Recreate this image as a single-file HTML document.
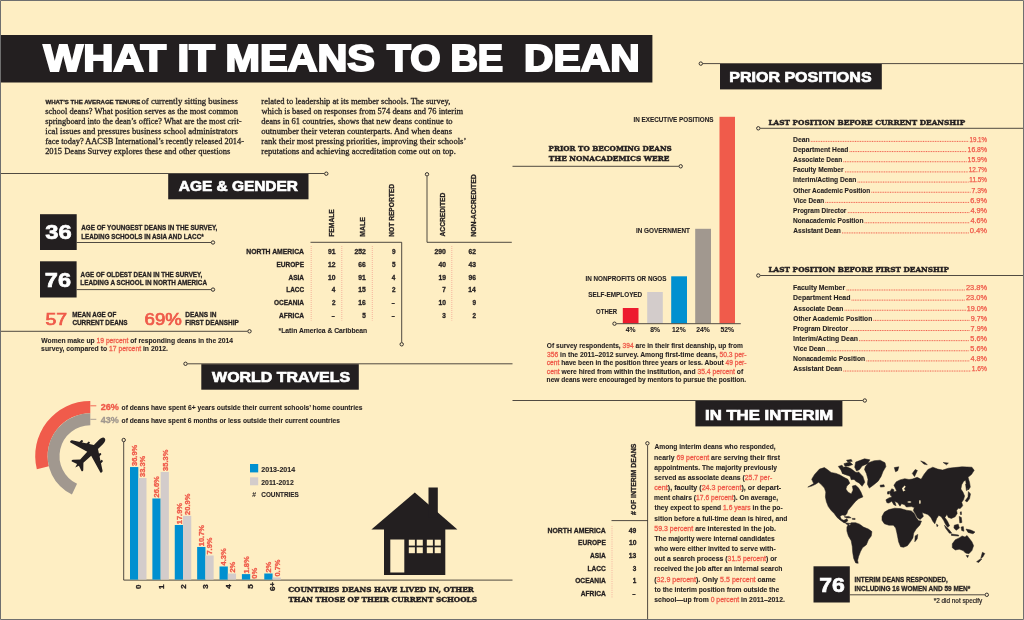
<!DOCTYPE html>
<html lang="en">
<head>
<meta charset="utf-8">
<title>What It Means To Be Dean</title>
<style>
html,body{margin:0;padding:0;background:#feeec3;}
body{width:1024px;height:620px;overflow:hidden;position:relative;}
svg{display:block;position:absolute;left:0;top:0;font-weight:bold;fill:#231f20;}
.s{font-family:'Liberation Sans', Arial, Helvetica, sans-serif;}
.r{font-family:'Liberation Serif', 'Times New Roman', serif;}
.b{font-family:'DejaVu Serif', 'Liberation Serif', serif;}
</style>
</head>
<body>
<svg width="1024" height="620" viewBox="0 0 1024 620">
<rect x="0" y="0" width="1024" height="620" fill="#feeec3"/>
<rect x="1" y="35" width="651.4" height="47.5" fill="#231f20"/>
<text class="s" x="43.6101" y="71.3" font-size="36.3" fill="#fff" textLength="122.579" lengthAdjust="spacingAndGlyphs" stroke="#fff" stroke-width="1.9" stroke-linejoin="miter">WHAT</text>
<text class="s" x="177.529" y="71.3" font-size="36.3" fill="#fff" textLength="37.4738" lengthAdjust="spacingAndGlyphs" stroke="#fff" stroke-width="1.9" stroke-linejoin="miter">IT</text>
<text class="s" x="225.583" y="71.3" font-size="36.3" fill="#fff" textLength="149.383" lengthAdjust="spacingAndGlyphs" stroke="#fff" stroke-width="1.9" stroke-linejoin="miter">MEANS</text>
<text class="s" x="387.118" y="71.3" font-size="36.3" fill="#fff" textLength="53.4485" lengthAdjust="spacingAndGlyphs" stroke="#fff" stroke-width="1.9" stroke-linejoin="miter">TO</text>
<text class="s" x="450.411" y="71.3" font-size="36.3" fill="#fff" textLength="52.7213" lengthAdjust="spacingAndGlyphs" stroke="#fff" stroke-width="1.9" stroke-linejoin="miter">BE</text>
<text class="s" x="524.124" y="71.3" font-size="36.3" fill="#fff" textLength="115.472" lengthAdjust="spacingAndGlyphs" stroke="#fff" stroke-width="1.9" stroke-linejoin="miter">DEAN</text>
<text class="s" x="45.4942" y="103.7" font-size="6" textLength="94.7396" lengthAdjust="spacingAndGlyphs" stroke="#231f20" stroke-width="0.3">WHAT’S THE AVERAGE TENURE</text>
<text class="r" x="141.469" y="103.7" font-size="8.9" font-weight="normal" textLength="96.3452" lengthAdjust="spacingAndGlyphs" stroke="#231f20" stroke-width="0.3">of currently sitting business</text>
<text class="r" x="45.1516" y="113.8" font-size="8.9" font-weight="normal" textLength="192.977" lengthAdjust="spacingAndGlyphs" stroke="#231f20" stroke-width="0.3">school deans? What position serves as the most common</text>
<text class="r" x="45.1559" y="123.9" font-size="8.9" font-weight="normal" textLength="196.397" lengthAdjust="spacingAndGlyphs" stroke="#231f20" stroke-width="0.3">springboard into the dean’s office? What are the most crit-</text>
<text class="r" x="45.3181" y="134" font-size="8.9" font-weight="normal" textLength="192.495" lengthAdjust="spacingAndGlyphs" stroke="#231f20" stroke-width="0.3">ical issues and pressures business school administrators</text>
<text class="r" x="45.2433" y="144.1" font-size="8.9" font-weight="normal" textLength="198.808" lengthAdjust="spacingAndGlyphs" stroke="#231f20" stroke-width="0.3">face today? AACSB International’s recently released 2014-</text>
<text class="r" x="45.1267" y="154.2" font-size="8.9" font-weight="normal" textLength="185.18" lengthAdjust="spacingAndGlyphs" stroke="#231f20" stroke-width="0.3">2015 Deans Survey explores these and other questions</text>
<text class="r" x="261.33" y="103.7" font-size="8.9" font-weight="normal" textLength="188.954" lengthAdjust="spacingAndGlyphs" stroke="#231f20" stroke-width="0.3">related to leadership at its member schools. The survey,</text>
<text class="r" x="261.492" y="113.8" font-size="8.9" font-weight="normal" textLength="201.64" lengthAdjust="spacingAndGlyphs" stroke="#231f20" stroke-width="0.3">which is based on responses from 574 deans and 76 interim</text>
<text class="r" x="261.191" y="123.9" font-size="8.9" font-weight="normal" textLength="191.385" lengthAdjust="spacingAndGlyphs" stroke="#231f20" stroke-width="0.3">deans in 61 countries, shows that new deans continue to</text>
<text class="r" x="261.169" y="134" font-size="8.9" font-weight="normal" textLength="190.895" lengthAdjust="spacingAndGlyphs" stroke="#231f20" stroke-width="0.3">outnumber their veteran counterparts. And when deans</text>
<text class="r" x="261.328" y="144.1" font-size="8.9" font-weight="normal" textLength="205" lengthAdjust="spacingAndGlyphs" stroke="#231f20" stroke-width="0.3">rank their most pressing priorities, improving their schools’</text>
<text class="r" x="261.328" y="154.2" font-size="8.9" font-weight="normal" textLength="194.488" lengthAdjust="spacingAndGlyphs" stroke="#231f20" stroke-width="0.3">reputations and achieving accreditation come out on top.</text>
<path d="M1 173.5L324.3 173.5" stroke="#231f20" stroke-width="0.8" fill="none" />
<circle cx="326.3" cy="173.7" r="1.7" fill="#feeec3" stroke="#231f20" stroke-width="0.9"/>
<rect x="168.2" y="174" width="140.3" height="25.3" fill="#231f20"/>
<text class="s" x="178.766" y="191.4" font-size="15" fill="#fff" textLength="119.201" lengthAdjust="spacingAndGlyphs" stroke="#fff" stroke-width="0.7">AGE &amp; GENDER</text>
<rect x="40" y="214.2" width="36.7" height="35.8" fill="#231f20"/>
<text class="s" x="45.3053" y="239.3" font-size="20.6" fill="#fff" textLength="26.4024" lengthAdjust="spacingAndGlyphs" stroke="#fff" stroke-width="0.7">36</text>
<rect x="40" y="261.3" width="36.6" height="36.2" fill="#231f20"/>
<text class="s" x="44.8394" y="287.1" font-size="20.6" fill="#fff" textLength="26.1604" lengthAdjust="spacingAndGlyphs" stroke="#fff" stroke-width="0.7">76</text>
<text class="s" x="81.3042" y="230.2" font-size="7.6" textLength="135.954" lengthAdjust="spacingAndGlyphs" stroke="#231f20" stroke-width="0.32">AGE OF YOUNGEST DEANS IN THE SURVEY,</text>
<text class="s" x="81.2413" y="238.7" font-size="7.6" textLength="122.405" lengthAdjust="spacingAndGlyphs" stroke="#231f20" stroke-width="0.32">LEADING SCHOOLS IN ASIA AND LACC*</text>
<path d="M76.7 242.5L211 242.5" stroke="#231f20" stroke-width="0.8" fill="none" />
<circle cx="213" cy="242.5" r="1.7" fill="#feeec3" stroke="#231f20" stroke-width="0.9"/>
<text class="s" x="80.6047" y="276.9" font-size="7.6" textLength="121.653" lengthAdjust="spacingAndGlyphs" stroke="#231f20" stroke-width="0.32">AGE OF OLDEST DEAN IN THE SURVEY,</text>
<text class="s" x="80.3387" y="285" font-size="7.6" textLength="126.667" lengthAdjust="spacingAndGlyphs" stroke="#231f20" stroke-width="0.32">LEADING A SCHOOL IN NORTH AMERICA</text>
<path d="M76.6 289.6L211 289.6" stroke="#231f20" stroke-width="0.8" fill="none" />
<circle cx="213" cy="289.6" r="1.7" fill="#feeec3" stroke="#231f20" stroke-width="0.9"/>
<text class="s" x="45.4164" y="324.6" font-size="15.6" font-weight="normal" fill="#ef5a4a" textLength="21.7678" lengthAdjust="spacingAndGlyphs" stroke="#ef5a4a" stroke-width="0.7">57</text>
<text class="s" x="72.2426" y="316.9" font-size="7.6" textLength="44.0259" lengthAdjust="spacingAndGlyphs" stroke="#231f20" stroke-width="0.32">MEAN AGE OF</text>
<text class="s" x="72.3988" y="325.1" font-size="7.6" textLength="55.1899" lengthAdjust="spacingAndGlyphs" stroke="#231f20" stroke-width="0.32">CURRENT DEANS</text>
<text class="s" x="144.553" y="324.6" font-size="15.6" font-weight="normal" fill="#ef5a4a" textLength="37.3111" lengthAdjust="spacingAndGlyphs" stroke="#ef5a4a" stroke-width="0.7">69%</text>
<text class="s" x="185.222" y="316.9" font-size="7.6" textLength="31.2584" lengthAdjust="spacingAndGlyphs" stroke="#231f20" stroke-width="0.32">DEANS IN</text>
<text class="s" x="185.23" y="325.1" font-size="7.6" textLength="53.5292" lengthAdjust="spacingAndGlyphs" stroke="#231f20" stroke-width="0.32">FIRST DEANSHIP</text>
<path d="M1 331.3L247.5 331.3" stroke="#231f20" stroke-width="0.8" fill="none" />
<circle cx="249.5" cy="331.3" r="1.7" fill="#feeec3" stroke="#231f20" stroke-width="0.9"/>
<text class="s" x="41.3435" y="343.1" font-size="7.4" textLength="191.642" lengthAdjust="spacingAndGlyphs" stroke="#231f20" stroke-width="0.1">Women make up <tspan fill="#ef5a4a" stroke="#ef5a4a" stroke-width="0.3" font-weight="normal">19 percent</tspan> of responding deans in the 2014</text>
<text class="s" x="41.1155" y="351.4" font-size="7.4" textLength="126.794" lengthAdjust="spacingAndGlyphs" stroke="#231f20" stroke-width="0.1">survey, compared to <tspan fill="#ef5a4a" stroke="#ef5a4a" stroke-width="0.3" font-weight="normal">17 percent</tspan> in 2012.</text>
<text class="s" x="246.205" y="254" font-size="7.6" textLength="57.8144" lengthAdjust="spacingAndGlyphs" stroke="#231f20" stroke-width="0.32">NORTH AMERICA</text>
<text class="s" x="276.523" y="266.8" font-size="7.6" textLength="27.5718" lengthAdjust="spacingAndGlyphs" stroke="#231f20" stroke-width="0.32">EUROPE</text>
<text class="s" x="288.498" y="279.6" font-size="7.6" textLength="15.5129" lengthAdjust="spacingAndGlyphs" stroke="#231f20" stroke-width="0.32">ASIA</text>
<text class="s" x="286.232" y="292.3" font-size="7.6" textLength="17.7834" lengthAdjust="spacingAndGlyphs" stroke="#231f20" stroke-width="0.32">LACC</text>
<text class="s" x="273.892" y="305.1" font-size="7.6" textLength="30.1201" lengthAdjust="spacingAndGlyphs" stroke="#231f20" stroke-width="0.32">OCEANIA</text>
<text class="s" x="278.995" y="317.8" font-size="7.6" textLength="25.0196" lengthAdjust="spacingAndGlyphs" stroke="#231f20" stroke-width="0.32">AFRICA</text>
<text class="s" x="328.006" y="254" font-size="7.6" textLength="7.52272" lengthAdjust="spacingAndGlyphs" stroke="#231f20" stroke-width="0.32">91</text>
<text class="s" x="328.101" y="266.8" font-size="7.6" textLength="7.5091" lengthAdjust="spacingAndGlyphs" stroke="#231f20" stroke-width="0.32">12</text>
<text class="s" x="328.108" y="279.6" font-size="7.6" textLength="7.50876" lengthAdjust="spacingAndGlyphs" stroke="#231f20" stroke-width="0.32">10</text>
<text class="s" x="331.776" y="292.3" font-size="7.6" textLength="3.59863" lengthAdjust="spacingAndGlyphs" stroke="#231f20" stroke-width="0.32">4</text>
<text class="s" x="332.035" y="305.1" font-size="7.6" textLength="3.56123" lengthAdjust="spacingAndGlyphs" stroke="#231f20" stroke-width="0.32">2</text>
<text class="s" x="331.617" y="317.8" font-size="7.6" textLength="3.3766" lengthAdjust="spacingAndGlyphs" stroke="#231f20" stroke-width="0.32">-</text>
<text class="s" x="354.457" y="254" font-size="7.6" textLength="11.4577" lengthAdjust="spacingAndGlyphs" stroke="#231f20" stroke-width="0.32">252</text>
<text class="s" x="358.365" y="266.8" font-size="7.6" textLength="7.51937" lengthAdjust="spacingAndGlyphs" stroke="#231f20" stroke-width="0.32">66</text>
<text class="s" x="358.306" y="279.6" font-size="7.6" textLength="7.52272" lengthAdjust="spacingAndGlyphs" stroke="#231f20" stroke-width="0.32">91</text>
<text class="s" x="358.315" y="292.3" font-size="7.6" textLength="7.51332" lengthAdjust="spacingAndGlyphs" stroke="#231f20" stroke-width="0.32">15</text>
<text class="s" x="358.374" y="305.1" font-size="7.6" textLength="7.51046" lengthAdjust="spacingAndGlyphs" stroke="#231f20" stroke-width="0.32">16</text>
<text class="s" x="362.246" y="317.8" font-size="7.6" textLength="3.5732" lengthAdjust="spacingAndGlyphs" stroke="#231f20" stroke-width="0.32">5</text>
<text class="s" x="392.014" y="254" font-size="7.6" textLength="3.56347" lengthAdjust="spacingAndGlyphs" stroke="#231f20" stroke-width="0.32">9</text>
<text class="s" x="391.946" y="266.8" font-size="7.6" textLength="3.5732" lengthAdjust="spacingAndGlyphs" stroke="#231f20" stroke-width="0.32">5</text>
<text class="s" x="391.776" y="279.6" font-size="7.6" textLength="3.59863" lengthAdjust="spacingAndGlyphs" stroke="#231f20" stroke-width="0.32">4</text>
<text class="s" x="392.035" y="292.3" font-size="7.6" textLength="3.56123" lengthAdjust="spacingAndGlyphs" stroke="#231f20" stroke-width="0.32">2</text>
<text class="s" x="391.617" y="305.1" font-size="7.6" textLength="3.3766" lengthAdjust="spacingAndGlyphs" stroke="#231f20" stroke-width="0.32">-</text>
<text class="s" x="391.617" y="317.8" font-size="7.6" textLength="3.3766" lengthAdjust="spacingAndGlyphs" stroke="#231f20" stroke-width="0.32">-</text>
<text class="s" x="434.464" y="254" font-size="7.6" textLength="11.4574" lengthAdjust="spacingAndGlyphs" stroke="#231f20" stroke-width="0.32">290</text>
<text class="s" x="438.393" y="266.8" font-size="7.6" textLength="7.52476" lengthAdjust="spacingAndGlyphs" stroke="#231f20" stroke-width="0.32">40</text>
<text class="s" x="438.38" y="279.6" font-size="7.6" textLength="7.51012" lengthAdjust="spacingAndGlyphs" stroke="#231f20" stroke-width="0.32">19</text>
<text class="s" x="442.369" y="292.3" font-size="7.6" textLength="3.55161" lengthAdjust="spacingAndGlyphs" stroke="#231f20" stroke-width="0.32">7</text>
<text class="s" x="438.408" y="305.1" font-size="7.6" textLength="7.50876" lengthAdjust="spacingAndGlyphs" stroke="#231f20" stroke-width="0.32">10</text>
<text class="s" x="442.299" y="317.8" font-size="7.6" textLength="3.57285" lengthAdjust="spacingAndGlyphs" stroke="#231f20" stroke-width="0.32">3</text>
<text class="s" x="468.593" y="254" font-size="7.6" textLength="7.51808" lengthAdjust="spacingAndGlyphs" stroke="#231f20" stroke-width="0.32">62</text>
<text class="s" x="468.558" y="266.8" font-size="7.6" textLength="7.52631" lengthAdjust="spacingAndGlyphs" stroke="#231f20" stroke-width="0.32">43</text>
<text class="s" x="468.564" y="279.6" font-size="7.6" textLength="7.52002" lengthAdjust="spacingAndGlyphs" stroke="#231f20" stroke-width="0.32">96</text>
<text class="s" x="468.356" y="292.3" font-size="7.6" textLength="7.52082" lengthAdjust="spacingAndGlyphs" stroke="#231f20" stroke-width="0.32">14</text>
<text class="s" x="472.514" y="305.1" font-size="7.6" textLength="3.56347" lengthAdjust="spacingAndGlyphs" stroke="#231f20" stroke-width="0.32">9</text>
<text class="s" x="472.535" y="317.8" font-size="7.6" textLength="3.56123" lengthAdjust="spacingAndGlyphs" stroke="#231f20" stroke-width="0.32">2</text>
<text transform="translate(334.2 236.3) rotate(-90)" class="s" x="-0.45" y="0" font-size="7.6" textLength="27.51" lengthAdjust="spacingAndGlyphs" stroke="#231f20" stroke-width="0.32">FEMALE</text>
<text transform="translate(365.2 236.3) rotate(-90)" class="s" x="-0.46" y="0" font-size="7.6" textLength="19.53" lengthAdjust="spacingAndGlyphs" stroke="#231f20" stroke-width="0.32">MALE</text>
<text transform="translate(393.8 236.3) rotate(-90)" class="s" x="-0.44" y="0" font-size="7.6" textLength="52.82" lengthAdjust="spacingAndGlyphs" stroke="#231f20" stroke-width="0.32">NOT REPORTED</text>
<text transform="translate(444.8 236.3) rotate(-90)" class="s" x="-0.17" y="0" font-size="7.6" textLength="43.75" lengthAdjust="spacingAndGlyphs" stroke="#231f20" stroke-width="0.32">ACCREDITED</text>
<text transform="translate(476.3 236.3) rotate(-90)" class="s" x="-0.46" y="0" font-size="7.6" textLength="62.55" lengthAdjust="spacingAndGlyphs" stroke="#231f20" stroke-width="0.32">NON-ACCREDITED</text>
<path d="M310.5 242.3L401.7 242.3L401.7 342.3" stroke="#231f20" stroke-width="0.8" fill="none"/>
<circle cx="401.7" cy="344.3" r="1.7" fill="#feeec3" stroke="#231f20" stroke-width="0.9"/>
<path d="M427 176.3L427 242.3L511.8 242.3" stroke="#231f20" stroke-width="0.8" fill="none"/>
<circle cx="427" cy="174.3" r="1.7" fill="#feeec3" stroke="#231f20" stroke-width="0.9"/>
<path d="M311.2 246L311.2 320.5" stroke="#f29a8d" stroke-width="0.8" fill="none" stroke-dasharray="0.9 1.1"/>
<path d="M341.8 246L341.8 320.5" stroke="#f29a8d" stroke-width="0.8" fill="none" stroke-dasharray="0.9 1.1"/>
<path d="M372.3 246L372.3 320.5" stroke="#f29a8d" stroke-width="0.8" fill="none" stroke-dasharray="0.9 1.1"/>
<path d="M451.8 246L451.8 320.5" stroke="#f29a8d" stroke-width="0.8" fill="none" stroke-dasharray="0.9 1.1"/>
<text class="s" x="278.53" y="332.6" font-size="7.2" textLength="88.6371" lengthAdjust="spacingAndGlyphs" stroke="#231f20" stroke-width="0.1">*Latin America &amp; Caribbean</text>
<path d="M187.5 363.8L512.5 363.8" stroke="#231f20" stroke-width="0.8" fill="none" />
<circle cx="185.5" cy="363.8" r="1.7" fill="#feeec3" stroke="#231f20" stroke-width="0.9"/>
<rect x="201.3" y="364.2" width="157.5" height="25.5" fill="#231f20"/>
<text class="s" x="212.135" y="382.1" font-size="15" fill="#fff" textLength="137.933" lengthAdjust="spacingAndGlyphs" stroke="#fff" stroke-width="0.7">WORLD TRAVELS</text>
<path d="M90.3 400.9A55.1 55.1 0 0 0 36.84 469.33L48.87 466.33A42.7 42.7 0 0 1 90.3 413.3Z" fill="#f05b4b"/>
<path d="M90.3 413.3A42.7 42.7 0 0 0 71.92 494.54L77.04 483.80A30.8 30.8 0 0 1 90.3 425.2Z" fill="#a1988f"/>
<path d="M90.3 405.8L96.3 405.8" stroke="#f05b4b" stroke-width="0.9" fill="none" />
<path d="M90.3 419.3L96.3 419.3" stroke="#a1988f" stroke-width="0.9" fill="none" />
<text class="s" x="100.644" y="410.1" font-size="8.6" fill="#ef5a4a" textLength="18.2361" lengthAdjust="spacingAndGlyphs" stroke="#ef5a4a" stroke-width="0.32">26%</text>
<text class="s" x="121.588" y="410" font-size="7.4" textLength="240.936" lengthAdjust="spacingAndGlyphs" stroke="#231f20" stroke-width="0.1">of deans have spent 6+ years outside their current schools’ home countries</text>
<text class="s" x="100.823" y="423.1" font-size="8.6" fill="#a1988f" textLength="18.0544" lengthAdjust="spacingAndGlyphs" stroke="#a1988f" stroke-width="0.32">43%</text>
<text class="s" x="121.588" y="423" font-size="7.4" textLength="218.436" lengthAdjust="spacingAndGlyphs" stroke="#231f20" stroke-width="0.1">of deans have spent 6 months or less outside their current countries</text>
<path d="M123.7 442L123.7 580.1L512.5 580.1" stroke="#231f20" stroke-width="0.8" fill="none"/>
<circle cx="123.7" cy="440" r="1.7" fill="#feeec3" stroke="#231f20" stroke-width="0.9"/>
<rect x="130" y="467.055" width="8.3" height="112.545" fill="#0090d0"/>
<rect x="138.3" y="478.035" width="8.2" height="101.565" fill="#d3cccb"/>
<text transform="translate(136.9 465.855) rotate(-90)" class="s" x="-0.17" y="0" font-size="7.5" textLength="21.27" lengthAdjust="spacingAndGlyphs" fill="#ef5a4a" stroke="#ef5a4a" stroke-width="0.32">36.9%</text>
<text transform="translate(145.3 476.835) rotate(-90)" class="s" x="-0.17" y="0" font-size="7.5" textLength="21.27" lengthAdjust="spacingAndGlyphs" fill="#ef5a4a" stroke="#ef5a4a" stroke-width="0.32">33.3%</text>
<text transform="translate(141.2 588.6) rotate(-90)" class="s" x="-0.32" y="0" font-size="7.6" textLength="4.44" lengthAdjust="spacingAndGlyphs" stroke="#231f20" stroke-width="0.32">0</text>
<rect x="152.38" y="498.47" width="8.3" height="81.13" fill="#0090d0"/>
<rect x="160.68" y="471.935" width="8.2" height="107.665" fill="#d3cccb"/>
<text transform="translate(159.28 497.27) rotate(-90)" class="s" x="-0.26" y="0" font-size="7.5" textLength="21.27" lengthAdjust="spacingAndGlyphs" fill="#ef5a4a" stroke="#ef5a4a" stroke-width="0.32">26.6%</text>
<text transform="translate(167.68 470.735) rotate(-90)" class="s" x="-0.17" y="0" font-size="7.5" textLength="21.27" lengthAdjust="spacingAndGlyphs" fill="#ef5a4a" stroke="#ef5a4a" stroke-width="0.32">35.3%</text>
<text transform="translate(163.58 588.6) rotate(-90)" class="s" x="-0.50" y="0" font-size="7.6" textLength="4.44" lengthAdjust="spacingAndGlyphs" stroke="#231f20" stroke-width="0.32">1</text>
<rect x="174.76" y="525.005" width="8.3" height="54.595" fill="#0090d0"/>
<rect x="183.06" y="515.855" width="8.2" height="63.745" fill="#d3cccb"/>
<text transform="translate(181.66 523.805) rotate(-90)" class="s" x="-0.47" y="0" font-size="7.5" textLength="21.27" lengthAdjust="spacingAndGlyphs" fill="#ef5a4a" stroke="#ef5a4a" stroke-width="0.32">17.9%</text>
<text transform="translate(190.06 514.655) rotate(-90)" class="s" x="-0.26" y="0" font-size="7.5" textLength="21.27" lengthAdjust="spacingAndGlyphs" fill="#ef5a4a" stroke="#ef5a4a" stroke-width="0.32">20.9%</text>
<text transform="translate(185.96 588.6) rotate(-90)" class="s" x="-0.28" y="0" font-size="7.6" textLength="4.44" lengthAdjust="spacingAndGlyphs" stroke="#231f20" stroke-width="0.32">2</text>
<rect x="197.14" y="546.965" width="8.3" height="32.635" fill="#0090d0"/>
<rect x="205.44" y="555.505" width="8.2" height="24.095" fill="#d3cccb"/>
<text transform="translate(204.04 545.765) rotate(-90)" class="s" x="-0.47" y="0" font-size="7.5" textLength="21.27" lengthAdjust="spacingAndGlyphs" fill="#ef5a4a" stroke="#ef5a4a" stroke-width="0.32">10.7%</text>
<text transform="translate(212.44 554.305) rotate(-90)" class="s" x="-0.32" y="0" font-size="7.5" textLength="17.09" lengthAdjust="spacingAndGlyphs" fill="#ef5a4a" stroke="#ef5a4a" stroke-width="0.32">7.9%</text>
<text transform="translate(208.34 588.6) rotate(-90)" class="s" x="-0.18" y="0" font-size="7.6" textLength="4.44" lengthAdjust="spacingAndGlyphs" stroke="#231f20" stroke-width="0.32">3</text>
<rect x="219.52" y="566.485" width="8.3" height="13.115" fill="#0090d0"/>
<rect x="227.82" y="573.5" width="8.2" height="6.1" fill="#d3cccb"/>
<text transform="translate(226.42 565.285) rotate(-90)" class="s" x="-0.11" y="0" font-size="7.5" textLength="17.09" lengthAdjust="spacingAndGlyphs" fill="#ef5a4a" stroke="#ef5a4a" stroke-width="0.32">4.3%</text>
<text transform="translate(234.82 572.3) rotate(-90)" class="s" x="-0.26" y="0" font-size="7.5" textLength="10.84" lengthAdjust="spacingAndGlyphs" fill="#ef5a4a" stroke="#ef5a4a" stroke-width="0.32">2%</text>
<text transform="translate(230.72 588.6) rotate(-90)" class="s" x="-0.12" y="0" font-size="7.6" textLength="4.44" lengthAdjust="spacingAndGlyphs" stroke="#231f20" stroke-width="0.32">4</text>
<rect x="241.9" y="574.11" width="8.3" height="5.49" fill="#0090d0"/>
<text transform="translate(248.8 572.91) rotate(-90)" class="s" x="-0.47" y="0" font-size="7.5" textLength="17.09" lengthAdjust="spacingAndGlyphs" fill="#ef5a4a" stroke="#ef5a4a" stroke-width="0.32">1.8%</text>
<text transform="translate(257.2 578.4) rotate(-90)" class="s" x="-0.30" y="0" font-size="7.5" textLength="10.84" lengthAdjust="spacingAndGlyphs" fill="#ef5a4a" stroke="#ef5a4a" stroke-width="0.32">0%</text>
<text transform="translate(253.1 588.6) rotate(-90)" class="s" x="-0.25" y="0" font-size="7.6" textLength="4.44" lengthAdjust="spacingAndGlyphs" stroke="#231f20" stroke-width="0.32">5</text>
<rect x="264.28" y="573.5" width="8.3" height="6.1" fill="#0090d0"/>
<rect x="272.58" y="577.465" width="8.2" height="2.135" fill="#d3cccb"/>
<text transform="translate(271.18 572.3) rotate(-90)" class="s" x="-0.26" y="0" font-size="7.5" textLength="10.84" lengthAdjust="spacingAndGlyphs" fill="#ef5a4a" stroke="#ef5a4a" stroke-width="0.32">2%</text>
<text transform="translate(279.58 576.265) rotate(-90)" class="s" x="-0.30" y="0" font-size="7.5" textLength="17.09" lengthAdjust="spacingAndGlyphs" fill="#ef5a4a" stroke="#ef5a4a" stroke-width="0.32">0.7%</text>
<text transform="translate(275.48 590.8) rotate(-90)" class="s" x="-0.29" y="0" font-size="7.6" textLength="9.10" lengthAdjust="spacingAndGlyphs" stroke="#231f20" stroke-width="0.32">6+</text>
<rect x="250" y="464" width="8.2" height="8.4" fill="#0090d0"/>
<rect x="250" y="477.3" width="8.2" height="8" fill="#d3cccb"/>
<text class="s" x="261.304" y="472.2" font-size="7.2" textLength="33.8837" lengthAdjust="spacingAndGlyphs" stroke="#231f20" stroke-width="0.1">2013-2014</text>
<text class="s" x="261.315" y="484.9" font-size="7.2" textLength="32.4062" lengthAdjust="spacingAndGlyphs" stroke="#231f20" stroke-width="0.1">2011-2012</text>
<text class="s" x="252" y="496.9" font-size="7.2" font-style="italic">#</text>
<text class="s" x="261.288" y="496.9" font-size="7.2" textLength="37.6114" lengthAdjust="spacingAndGlyphs" stroke="#231f20" stroke-width="0.1">COUNTRIES</text>
<text class="b" x="288.194" y="591.7" font-size="8" textLength="185.763" lengthAdjust="spacingAndGlyphs" stroke="#231f20" stroke-width="0.45">COUNTRIES DEANS HAVE LIVED IN, OTHER</text>
<text class="b" x="288.418" y="601.7" font-size="8" textLength="188.519" lengthAdjust="spacingAndGlyphs" stroke="#231f20" stroke-width="0.45">THAN THOSE OF THEIR CURRENT SCHOOLS</text>
<path d="M702.8 63.6L1023 63.6" stroke="#231f20" stroke-width="0.8" fill="none" />
<circle cx="700.8" cy="63.6" r="1.7" fill="#feeec3" stroke="#231f20" stroke-width="0.9"/>
<rect x="720" y="64" width="161.8" height="25.4" fill="#231f20"/>
<text class="s" x="729.279" y="82" font-size="15" fill="#fff" textLength="142.296" lengthAdjust="spacingAndGlyphs" stroke="#fff" stroke-width="0.7">PRIOR POSITIONS</text>
<rect x="622.8" y="308" width="15.7" height="15.3" fill="#ed1b2e"/>
<rect x="647.2" y="292" width="15.6" height="31.3" fill="#d3cccb"/>
<rect x="671.2" y="276.3" width="15.8" height="47" fill="#0090d0"/>
<rect x="695.2" y="228.8" width="15.8" height="94.5" fill="#a1988f"/>
<rect x="719.5" y="116.8" width="15.5" height="206.5" fill="#f05b4b"/>
<path d="M616.5 323.7L740.8 323.7" stroke="#231f20" stroke-width="0.8" fill="none" />
<circle cx="614.5" cy="323.7" r="1.7" fill="#feeec3" stroke="#231f20" stroke-width="0.9"/>
<text class="s" x="625.847" y="332.3" font-size="7.2" textLength="9.78298" lengthAdjust="spacingAndGlyphs" stroke="#231f20" stroke-width="0.1">4%</text>
<text class="s" x="650.191" y="332.3" font-size="7.2" textLength="9.78175" lengthAdjust="spacingAndGlyphs" stroke="#231f20" stroke-width="0.1">8%</text>
<text class="s" x="672.083" y="332.3" font-size="7.2" textLength="13.5853" lengthAdjust="spacingAndGlyphs" stroke="#231f20" stroke-width="0.1">12%</text>
<text class="s" x="696.178" y="332.3" font-size="7.2" textLength="13.5869" lengthAdjust="spacingAndGlyphs" stroke="#231f20" stroke-width="0.1">24%</text>
<text class="s" x="720.492" y="332.3" font-size="7.2" textLength="13.5871" lengthAdjust="spacingAndGlyphs" stroke="#231f20" stroke-width="0.1">52%</text>
<text class="s" x="633.427" y="122.2" font-size="7" textLength="80.0697" lengthAdjust="spacingAndGlyphs" stroke="#231f20" stroke-width="0.1">IN EXECUTIVE POSITIONS</text>
<text class="s" x="635.921" y="233.4" font-size="7" textLength="54.0973" lengthAdjust="spacingAndGlyphs" stroke="#231f20" stroke-width="0.1">IN GOVERNMENT</text>
<text class="s" x="585.427" y="281.4" font-size="7" textLength="81.0693" lengthAdjust="spacingAndGlyphs" stroke="#231f20" stroke-width="0.1">IN NONPROFITS OR NGOS</text>
<text class="s" x="588.167" y="297.1" font-size="7" textLength="54.0502" lengthAdjust="spacingAndGlyphs" stroke="#231f20" stroke-width="0.1">SELF-EMPLOYED</text>
<text class="s" x="596.104" y="313.6" font-size="7" textLength="20.9686" lengthAdjust="spacingAndGlyphs" stroke="#231f20" stroke-width="0.1">OTHER</text>
<text class="b" x="548.462" y="150.9" font-size="8" textLength="123.272" lengthAdjust="spacingAndGlyphs" stroke="#231f20" stroke-width="0.45">PRIOR TO BECOMING DEANS</text>
<text class="b" x="548.717" y="161.2" font-size="8" textLength="120.66" lengthAdjust="spacingAndGlyphs" stroke="#231f20" stroke-width="0.45">THE NONACADEMICS WERE</text>
<path d="M512.5 166.3L678.7 166.3" stroke="#231f20" stroke-width="0.8" fill="none" />
<circle cx="680.7" cy="166.3" r="1.7" fill="#feeec3" stroke="#231f20" stroke-width="0.9"/>
<text class="s" x="546.778" y="348.2" font-size="7.4" textLength="196.082" lengthAdjust="spacingAndGlyphs" stroke="#231f20" stroke-width="0.1">Of survey respondents, <tspan fill="#ef5a4a" stroke="#ef5a4a" stroke-width="0.3" font-weight="normal">394</tspan> are in their first deanship, up from</text>
<text class="s" x="546.896" y="356.7" font-size="7.4" textLength="199.622" lengthAdjust="spacingAndGlyphs" stroke="#231f20" stroke-width="0.1"><tspan fill="#ef5a4a" stroke="#ef5a4a" stroke-width="0.3" font-weight="normal">356</tspan> in the 2011–2012 survey. Among first-time deans, <tspan fill="#ef5a4a" stroke="#ef5a4a" stroke-width="0.3" font-weight="normal">50.3 per-</tspan></text>
<text class="s" x="546.794" y="365.2" font-size="7.4" textLength="199.719" lengthAdjust="spacingAndGlyphs" stroke="#231f20" stroke-width="0.1"><tspan fill="#ef5a4a" stroke="#ef5a4a" stroke-width="0.3" font-weight="normal">cent</tspan> have been in the position three years or less. About <tspan fill="#ef5a4a" stroke="#ef5a4a" stroke-width="0.3" font-weight="normal">49 per-</tspan></text>
<text class="s" x="546.79" y="373.7" font-size="7.4" textLength="196.447" lengthAdjust="spacingAndGlyphs" stroke="#231f20" stroke-width="0.1"><tspan fill="#ef5a4a" stroke="#ef5a4a" stroke-width="0.3" font-weight="normal">cent</tspan> were hired from within the institution, and <tspan fill="#ef5a4a" stroke="#ef5a4a" stroke-width="0.3" font-weight="normal">35.4 percent</tspan> of</text>
<text class="s" x="546.616" y="382.2" font-size="7.4" textLength="199.587" lengthAdjust="spacingAndGlyphs" stroke="#231f20" stroke-width="0.1">new deans were encouraged by mentors to pursue the position.</text>
<text class="b" x="768.457" y="125" font-size="8" textLength="196.725" lengthAdjust="spacingAndGlyphs" stroke="#231f20" stroke-width="0.45">LAST POSITION BEFORE CURRENT DEANSHIP</text>
<path d="M760.3 128.3L1023 128.3" stroke="#231f20" stroke-width="0.8" fill="none" />
<circle cx="758.3" cy="128.3" r="1.7" fill="#feeec3" stroke="#231f20" stroke-width="0.9"/>
<text class="s" x="793.044" y="141.7" font-size="6.9" textLength="16.6793" lengthAdjust="spacingAndGlyphs" stroke="#231f20" stroke-width="0.12">Dean</text>
<text class="s" x="969.53" y="141.7" font-size="6.9" font-weight="normal" fill="#ef5a4a" textLength="17.4897" lengthAdjust="spacingAndGlyphs" stroke="#ef5a4a" stroke-width="0.25">19.1%</text>
<path d="M810.8 141.4L968.8 141.4" stroke="#f0604f" stroke-width="1" fill="none" stroke-dasharray="1 0.7"/>
<text class="s" x="793.053" y="151.87" font-size="6.9" textLength="55.3885" lengthAdjust="spacingAndGlyphs" stroke="#231f20" stroke-width="0.12">Department Head</text>
<text class="s" x="967.577" y="151.87" font-size="6.9" font-weight="normal" fill="#ef5a4a" textLength="19.4677" lengthAdjust="spacingAndGlyphs" stroke="#ef5a4a" stroke-width="0.25">16.8%</text>
<path d="M849.5 151.57L966.9 151.57" stroke="#f0604f" stroke-width="1" fill="none" stroke-dasharray="1 0.7"/>
<text class="s" x="793.337" y="162.04" font-size="6.9" textLength="48.8703" lengthAdjust="spacingAndGlyphs" stroke="#231f20" stroke-width="0.12">Associate Dean</text>
<text class="s" x="967.577" y="162.04" font-size="6.9" font-weight="normal" fill="#ef5a4a" textLength="19.4677" lengthAdjust="spacingAndGlyphs" stroke="#ef5a4a" stroke-width="0.25">15.9%</text>
<path d="M843.3 161.74L966.9 161.74" stroke="#f0604f" stroke-width="1" fill="none" stroke-dasharray="1 0.7"/>
<text class="s" x="793.056" y="172.21" font-size="6.9" textLength="50.5446" lengthAdjust="spacingAndGlyphs" stroke="#231f20" stroke-width="0.12">Faculty Member</text>
<text class="s" x="968.811" y="172.21" font-size="6.9" font-weight="normal" fill="#ef5a4a" textLength="18.2184" lengthAdjust="spacingAndGlyphs" stroke="#ef5a4a" stroke-width="0.25">12.7%</text>
<path d="M845 171.91L968.1 171.91" stroke="#f0604f" stroke-width="1" fill="none" stroke-dasharray="1 0.7"/>
<text class="s" x="793.051" y="182.38" font-size="6.9" textLength="63.3647" lengthAdjust="spacingAndGlyphs" stroke="#231f20" stroke-width="0.12">Interim/Acting Dean</text>
<text class="s" x="969.325" y="182.38" font-size="6.9" font-weight="normal" fill="#ef5a4a" textLength="17.6979" lengthAdjust="spacingAndGlyphs" stroke="#ef5a4a" stroke-width="0.25">11.5%</text>
<path d="M857.5 182.08L968.6 182.08" stroke="#f0604f" stroke-width="1" fill="none" stroke-dasharray="1 0.7"/>
<text class="s" x="793.235" y="192.55" font-size="6.9" textLength="76.9668" lengthAdjust="spacingAndGlyphs" stroke="#231f20" stroke-width="0.12">Other Academic Position</text>
<text class="s" x="971.449" y="192.55" font-size="6.9" font-weight="normal" fill="#ef5a4a" textLength="15.5947" lengthAdjust="spacingAndGlyphs" stroke="#ef5a4a" stroke-width="0.25">7.3%</text>
<path d="M871.3 192.25L970.6 192.25" stroke="#f0604f" stroke-width="1" fill="none" stroke-dasharray="1 0.7"/>
<text class="s" x="793.456" y="202.72" font-size="6.9" textLength="30.7428" lengthAdjust="spacingAndGlyphs" stroke="#231f20" stroke-width="0.12">Vice Dean</text>
<text class="s" x="970.225" y="202.72" font-size="6.9" font-weight="normal" fill="#ef5a4a" textLength="16.8385" lengthAdjust="spacingAndGlyphs" stroke="#ef5a4a" stroke-width="0.25">6.9%</text>
<path d="M825.3 202.42L969.4 202.42" stroke="#f0604f" stroke-width="1" fill="none" stroke-dasharray="1 0.7"/>
<text class="s" x="793.066" y="212.89" font-size="6.9" textLength="53.3319" lengthAdjust="spacingAndGlyphs" stroke="#231f20" stroke-width="0.12">Program Director</text>
<text class="s" x="970.433" y="212.89" font-size="6.9" font-weight="normal" fill="#ef5a4a" textLength="16.6274" lengthAdjust="spacingAndGlyphs" stroke="#ef5a4a" stroke-width="0.25">4.9%</text>
<path d="M847.8 212.59L969.4 212.59" stroke="#f0604f" stroke-width="1" fill="none" stroke-dasharray="1 0.7"/>
<text class="s" x="793.061" y="223.06" font-size="6.9" textLength="70.3455" lengthAdjust="spacingAndGlyphs" stroke="#231f20" stroke-width="0.12">Nonacademic Position</text>
<text class="s" x="970.433" y="223.06" font-size="6.9" font-weight="normal" fill="#ef5a4a" textLength="16.6274" lengthAdjust="spacingAndGlyphs" stroke="#ef5a4a" stroke-width="0.25">4.6%</text>
<path d="M864.5 222.76L969.4 222.76" stroke="#f0604f" stroke-width="1" fill="none" stroke-dasharray="1 0.7"/>
<text class="s" x="793.336" y="233.23" font-size="6.9" textLength="47.5723" lengthAdjust="spacingAndGlyphs" stroke="#231f20" stroke-width="0.12">Assistant Dean</text>
<text class="s" x="969.702" y="233.23" font-size="6.9" font-weight="normal" fill="#ef5a4a" textLength="17.3693" lengthAdjust="spacingAndGlyphs" stroke="#ef5a4a" stroke-width="0.25">0.4%</text>
<path d="M842 232.93L968.8 232.93" stroke="#f0604f" stroke-width="1" fill="none" stroke-dasharray="1 0.7"/>
<text class="b" x="768.456" y="271.8" font-size="8" textLength="180.527" lengthAdjust="spacingAndGlyphs" stroke="#231f20" stroke-width="0.45">LAST POSITION BEFORE FIRST DEANSHIP</text>
<path d="M760.3 275.5L1023 275.5" stroke="#231f20" stroke-width="0.8" fill="none" />
<circle cx="758.3" cy="275.5" r="1.7" fill="#feeec3" stroke="#231f20" stroke-width="0.9"/>
<text class="s" x="793.043" y="290.3" font-size="6.9" textLength="52.0609" lengthAdjust="spacingAndGlyphs" stroke="#231f20" stroke-width="0.12">Faculty Member</text>
<text class="s" x="965.925" y="290.3" font-size="6.9" font-weight="normal" fill="#ef5a4a" textLength="21.1407" lengthAdjust="spacingAndGlyphs" stroke="#ef5a4a" stroke-width="0.25">23.8%</text>
<path d="M846.5 290L965.1 290" stroke="#f0604f" stroke-width="1" fill="none" stroke-dasharray="1 0.7"/>
<text class="s" x="793.036" y="300.43" font-size="6.9" textLength="57.4211" lengthAdjust="spacingAndGlyphs" stroke="#231f20" stroke-width="0.12">Department Head</text>
<text class="s" x="965.925" y="300.43" font-size="6.9" font-weight="normal" fill="#ef5a4a" textLength="21.1407" lengthAdjust="spacingAndGlyphs" stroke="#ef5a4a" stroke-width="0.25">23.0%</text>
<path d="M851.5 300.13L965.1 300.13" stroke="#f0604f" stroke-width="1" fill="none" stroke-dasharray="1 0.7"/>
<text class="s" x="793.333" y="310.56" font-size="6.9" textLength="50.0845" lengthAdjust="spacingAndGlyphs" stroke="#231f20" stroke-width="0.12">Associate Dean</text>
<text class="s" x="966.755" y="310.56" font-size="6.9" font-weight="normal" fill="#ef5a4a" textLength="20.3006" lengthAdjust="spacingAndGlyphs" stroke="#ef5a4a" stroke-width="0.25">19.0%</text>
<path d="M844.5 310.26L966.1 310.26" stroke="#f0604f" stroke-width="1" fill="none" stroke-dasharray="1 0.7"/>
<text class="s" x="793.228" y="320.69" font-size="6.9" textLength="78.9843" lengthAdjust="spacingAndGlyphs" stroke="#231f20" stroke-width="0.12">Other Academic Position</text>
<text class="s" x="970.663" y="320.69" font-size="6.9" font-weight="normal" fill="#ef5a4a" textLength="16.3935" lengthAdjust="spacingAndGlyphs" stroke="#ef5a4a" stroke-width="0.25">9.7%</text>
<path d="M873.3 320.39L969.8 320.39" stroke="#f0604f" stroke-width="1" fill="none" stroke-dasharray="1 0.7"/>
<text class="s" x="793.052" y="330.82" font-size="6.9" textLength="55.0491" lengthAdjust="spacingAndGlyphs" stroke="#231f20" stroke-width="0.12">Program Director</text>
<text class="s" x="970.631" y="330.82" font-size="6.9" font-weight="normal" fill="#ef5a4a" textLength="16.4264" lengthAdjust="spacingAndGlyphs" stroke="#ef5a4a" stroke-width="0.25">7.9%</text>
<path d="M849.5 330.52L969.8 330.52" stroke="#f0604f" stroke-width="1" fill="none" stroke-dasharray="1 0.7"/>
<text class="s" x="793.04" y="340.95" font-size="6.9" textLength="64.8855" lengthAdjust="spacingAndGlyphs" stroke="#231f20" stroke-width="0.12">Interim/Acting Dean</text>
<text class="s" x="970.306" y="340.95" font-size="6.9" font-weight="normal" fill="#ef5a4a" textLength="16.7564" lengthAdjust="spacingAndGlyphs" stroke="#ef5a4a" stroke-width="0.25">5.6%</text>
<path d="M859 340.65L969.4 340.65" stroke="#f0604f" stroke-width="1" fill="none" stroke-dasharray="1 0.7"/>
<text class="s" x="793.454" y="351.08" font-size="6.9" textLength="31.9603" lengthAdjust="spacingAndGlyphs" stroke="#231f20" stroke-width="0.12">Vice Dean</text>
<text class="s" x="970.306" y="351.08" font-size="6.9" font-weight="normal" fill="#ef5a4a" textLength="16.7564" lengthAdjust="spacingAndGlyphs" stroke="#ef5a4a" stroke-width="0.25">5.6%</text>
<path d="M826.5 350.78L969.4 350.78" stroke="#f0604f" stroke-width="1" fill="none" stroke-dasharray="1 0.7"/>
<text class="s" x="793.05" y="361.21" font-size="6.9" textLength="72.1674" lengthAdjust="spacingAndGlyphs" stroke="#231f20" stroke-width="0.12">Nonacademic Position</text>
<text class="s" x="970.433" y="361.21" font-size="6.9" font-weight="normal" fill="#ef5a4a" textLength="16.6274" lengthAdjust="spacingAndGlyphs" stroke="#ef5a4a" stroke-width="0.25">4.8%</text>
<path d="M866.3 360.91L969.4 360.91" stroke="#f0604f" stroke-width="1" fill="none" stroke-dasharray="1 0.7"/>
<text class="s" x="793.331" y="371.34" font-size="6.9" textLength="48.8881" lengthAdjust="spacingAndGlyphs" stroke="#231f20" stroke-width="0.12">Assistant Dean</text>
<text class="s" x="971.79" y="371.34" font-size="6.9" font-weight="normal" fill="#ef5a4a" textLength="15.248" lengthAdjust="spacingAndGlyphs" stroke="#ef5a4a" stroke-width="0.25">1.6%</text>
<path d="M843.3 371.04L971.1 371.04" stroke="#f0604f" stroke-width="1" fill="none" stroke-dasharray="1 0.7"/>
<path d="M512.5 400.5L862.8 400.5" stroke="#231f20" stroke-width="0.8" fill="none" />
<circle cx="864.8" cy="400.5" r="1.7" fill="#feeec3" stroke="#231f20" stroke-width="0.9"/>
<rect x="695.4" y="401" width="147" height="25.4" fill="#231f20"/>
<text class="s" x="705.031" y="419.6" font-size="15" fill="#fff" textLength="128.238" lengthAdjust="spacingAndGlyphs" stroke="#fff" stroke-width="0.7">IN THE INTERIM</text>
<path d="M647.6 445.3L647.6 619" stroke="#231f20" stroke-width="0.8" fill="none" />
<circle cx="647.4" cy="443.3" r="1.7" fill="#feeec3" stroke="#231f20" stroke-width="0.9"/>
<path d="M611.5 520.6L647.6 520.6" stroke="#231f20" stroke-width="0.8" fill="none" />
<text transform="translate(636.4 515) rotate(-90)" class="s" x="-0.12" y="0" font-size="7.6" textLength="71.39" lengthAdjust="spacingAndGlyphs" stroke="#231f20" stroke-width="0.32"># OF INTERIM DEANS</text>
<text class="s" x="547.501" y="532.7" font-size="7.6" textLength="58.3199" lengthAdjust="spacingAndGlyphs" stroke="#231f20" stroke-width="0.32">NORTH AMERICA</text>
<text class="s" x="628.865" y="532.7" font-size="7.6" textLength="7.526" lengthAdjust="spacingAndGlyphs" stroke="#231f20" stroke-width="0.32">49</text>
<text class="s" x="578.018" y="545.3" font-size="7.6" textLength="27.8795" lengthAdjust="spacingAndGlyphs" stroke="#231f20" stroke-width="0.32">EUROPE</text>
<text class="s" x="628.908" y="545.3" font-size="7.6" textLength="7.50876" lengthAdjust="spacingAndGlyphs" stroke="#231f20" stroke-width="0.32">10</text>
<text class="s" x="589.995" y="558" font-size="7.6" textLength="15.8195" lengthAdjust="spacingAndGlyphs" stroke="#231f20" stroke-width="0.32">ASIA</text>
<text class="s" x="628.874" y="558" font-size="7.6" textLength="7.51046" lengthAdjust="spacingAndGlyphs" stroke="#231f20" stroke-width="0.32">13</text>
<text class="s" x="587.519" y="570.6" font-size="7.6" textLength="18.301" lengthAdjust="spacingAndGlyphs" stroke="#231f20" stroke-width="0.32">LACC</text>
<text class="s" x="632.799" y="570.6" font-size="7.6" textLength="3.57285" lengthAdjust="spacingAndGlyphs" stroke="#231f20" stroke-width="0.32">3</text>
<text class="s" x="575.188" y="583.3" font-size="7.6" textLength="30.6275" lengthAdjust="spacingAndGlyphs" stroke="#231f20" stroke-width="0.32">OCEANIA</text>
<text class="s" x="632.769" y="583.3" font-size="7.6" textLength="3.54843" lengthAdjust="spacingAndGlyphs" stroke="#231f20" stroke-width="0.32">1</text>
<text class="s" x="580.795" y="596" font-size="7.6" textLength="25.0196" lengthAdjust="spacingAndGlyphs" stroke="#231f20" stroke-width="0.32">AFRICA</text>
<text class="s" x="632.317" y="596" font-size="7.6" textLength="3.3766" lengthAdjust="spacingAndGlyphs" stroke="#231f20" stroke-width="0.32">-</text>
<path d="M612 526L612 597.5" stroke="#f4a79a" stroke-width="0.8" fill="none" stroke-dasharray="1 1.2"/>
<text class="s" x="654.384" y="449.4" font-size="7.4" textLength="121.212" lengthAdjust="spacingAndGlyphs" stroke="#231f20" stroke-width="0.1">Among interim deans who responded,</text>
<text class="s" x="654.1" y="459.57" font-size="7.4" textLength="125.933" lengthAdjust="spacingAndGlyphs" stroke="#231f20" stroke-width="0.1">nearly <tspan fill="#ef5a4a" stroke="#ef5a4a" stroke-width="0.3" font-weight="normal">69 percent</tspan> are serving their first</text>
<text class="s" x="654.354" y="469.74" font-size="7.4" textLength="122.632" lengthAdjust="spacingAndGlyphs" stroke="#231f20" stroke-width="0.1">appointments. The majority previously</text>
<text class="s" x="654.311" y="479.91" font-size="7.4" textLength="117.911" lengthAdjust="spacingAndGlyphs" stroke="#231f20" stroke-width="0.1">served as associate deans (<tspan fill="#ef5a4a" stroke="#ef5a4a" stroke-width="0.3" font-weight="normal">25.7 per-</tspan></text>
<text class="s" x="654.277" y="490.08" font-size="7.4" textLength="126.953" lengthAdjust="spacingAndGlyphs" stroke="#231f20" stroke-width="0.1"><tspan fill="#ef5a4a" stroke="#ef5a4a" stroke-width="0.3" font-weight="normal">cent</tspan>), faculty (<tspan fill="#ef5a4a" stroke="#ef5a4a" stroke-width="0.3" font-weight="normal">24.3 percent</tspan>), or depart-</text>
<text class="s" x="654.112" y="500.25" font-size="7.4" textLength="123.982" lengthAdjust="spacingAndGlyphs" stroke="#231f20" stroke-width="0.1">ment chairs (<tspan fill="#ef5a4a" stroke="#ef5a4a" stroke-width="0.3" font-weight="normal">17.6 percent</tspan>). On average,</text>
<text class="s" x="654.469" y="510.42" font-size="7.4" textLength="128.247" lengthAdjust="spacingAndGlyphs" stroke="#231f20" stroke-width="0.1">they expect to spend <tspan fill="#ef5a4a" stroke="#ef5a4a" stroke-width="0.3" font-weight="normal">1.6 years</tspan> in the po-</text>
<text class="s" x="654.313" y="520.59" font-size="7.4" textLength="133.08" lengthAdjust="spacingAndGlyphs" stroke="#231f20" stroke-width="0.1">sition before a full-time dean is hired, and</text>
<text class="s" x="654.338" y="530.76" font-size="7.4" textLength="121.585" lengthAdjust="spacingAndGlyphs" stroke="#231f20" stroke-width="0.1"><tspan fill="#ef5a4a" stroke="#ef5a4a" stroke-width="0.3" font-weight="normal">59.3 percent</tspan> are interested in the job.</text>
<text class="s" x="654.475" y="540.93" font-size="7.4" textLength="120.251" lengthAdjust="spacingAndGlyphs" stroke="#231f20" stroke-width="0.1">The majority were internal candidates</text>
<text class="s" x="654.57" y="551.1" font-size="7.4" textLength="121.153" lengthAdjust="spacingAndGlyphs" stroke="#231f20" stroke-width="0.1">who were either invited to serve with-</text>
<text class="s" x="654.284" y="561.27" font-size="7.4" textLength="122.768" lengthAdjust="spacingAndGlyphs" stroke="#231f20" stroke-width="0.1">out a search process (<tspan fill="#ef5a4a" stroke="#ef5a4a" stroke-width="0.3" font-weight="normal">31.5 percent</tspan>) or</text>
<text class="s" x="654.103" y="571.44" font-size="7.4" textLength="128.268" lengthAdjust="spacingAndGlyphs" stroke="#231f20" stroke-width="0.1">received the job after an internal search</text>
<text class="s" x="654.208" y="581.61" font-size="7.4" textLength="121.477" lengthAdjust="spacingAndGlyphs" stroke="#231f20" stroke-width="0.1">(<tspan fill="#ef5a4a" stroke="#ef5a4a" stroke-width="0.3" font-weight="normal">32.9 percent</tspan>). Only <tspan fill="#ef5a4a" stroke="#ef5a4a" stroke-width="0.3" font-weight="normal">5.5 percent</tspan> came</text>
<text class="s" x="654.468" y="591.78" font-size="7.4" textLength="124.711" lengthAdjust="spacingAndGlyphs" stroke="#231f20" stroke-width="0.1">to the interim position from outside the</text>
<text class="s" x="654.313" y="601.95" font-size="7.4" textLength="130.6" lengthAdjust="spacingAndGlyphs" stroke="#231f20" stroke-width="0.1">school—up from <tspan fill="#ef5a4a" stroke="#ef5a4a" stroke-width="0.3" font-weight="normal">0 percent</tspan> in 2011–2012.</text>
<rect x="813.5" y="566.3" width="36.3" height="36.2" fill="#231f20"/>
<text class="s" x="819.16" y="591.9" font-size="20.6" fill="#fff" textLength="25.6221" lengthAdjust="spacingAndGlyphs" stroke="#fff" stroke-width="0.7">76</text>
<text class="s" x="854.538" y="582.3" font-size="7.6" textLength="93.2239" lengthAdjust="spacingAndGlyphs" stroke="#231f20" stroke-width="0.32">INTERIM DEANS RESPONDED,</text>
<text class="s" x="854.527" y="591" font-size="7.6" textLength="115.819" lengthAdjust="spacingAndGlyphs" stroke="#231f20" stroke-width="0.32">INCLUDING 16 WOMEN AND 59 MEN*</text>
<path d="M849.8 594.8L984.8 594.8" stroke="#231f20" stroke-width="0.8" fill="none" />
<circle cx="986.8" cy="594.8" r="1.7" fill="#feeec3" stroke="#231f20" stroke-width="0.9"/>
<text class="s" x="933.697" y="603" font-size="6.3" font-weight="normal" textLength="48.6153" lengthAdjust="spacingAndGlyphs" stroke="#231f20" stroke-width="0.2">*2 did not specify</text>
<g transform="translate(89.85 453.05) rotate(45)" fill="#231f20"><path d="M0 -21C1.9 -21 2.9 -18.6 2.9 -15.5L2.9 -8.6L21.6 3.6C22.6 4.3 22.4 6.6 21.2 6.3L2.8 0.9L2.3 11.4L7.3 16.6C8 17.3 7.7 18.9 6.8 18.6L1.3 16.8L0 20.6L-1.3 16.8L-6.8 18.6C-7.7 18.9 -8 17.3 -7.3 16.6L-2.3 11.4L-2.8 0.9L-21.2 6.3C-22.4 6.6 -22.6 4.3 -21.6 3.6L-2.9 -8.6L-2.9 -15.5C-2.9 -18.6 -1.9 -21 0 -21Z"/><rect x="7" y="-7.6" width="2.1" height="5" rx="0.9"/><rect x="13" y="-3.8" width="2.1" height="5" rx="0.9"/><rect x="-9.1" y="-7.6" width="2.1" height="5" rx="0.9"/><rect x="-15.1" y="-3.8" width="2.1" height="5" rx="0.9"/></g>
<g fill="#231f20"><path d="M414.8 492.4L457.4 529.6L371.4 529.6Z"/><rect x="428.5" y="487.5" width="9.3" height="30"/><rect x="384" y="529" width="61.3" height="46"/></g>
<rect x="390.3" y="539.5" width="14" height="33" fill="#feeec3"/>
<rect x="408.8" y="539.7" width="6.1" height="5.9" fill="#feeec3"/>
<rect x="408.8" y="547.3" width="6.1" height="5.9" fill="#feeec3"/>
<rect x="416.7" y="539.7" width="6.1" height="5.9" fill="#feeec3"/>
<rect x="416.7" y="547.3" width="6.1" height="5.9" fill="#feeec3"/>
<rect x="426.8" y="539.7" width="6.1" height="5.9" fill="#feeec3"/>
<rect x="426.8" y="547.3" width="6.1" height="5.9" fill="#feeec3"/>
<rect x="434.7" y="539.7" width="6.1" height="5.9" fill="#feeec3"/>
<rect x="434.7" y="547.3" width="6.1" height="5.9" fill="#feeec3"/>
<path d="M807.8 487.1L813.7 483.6L811.7 479.3L814.6 474.4L819.5 469.1L824.4 467.6L827.3 469.5L831.2 472.5L836.1 473.4L840.0 475.0L843.9 477.3L847.9 479.3L849.8 483.2L846.9 486.1L845.9 489.1L847.9 492.0L851.2 493.9L853.1 490.0L852.3 486.1L855.7 485.2L858.6 488.1L860.9 492.0L862.9 496.9L858.6 498.8L855.7 501.2L852.7 504.7L850.4 507.6L847.9 510.5L846.9 513.5L845.3 515.4L842.0 515.0L840.0 516.4L841.4 519.3L843.9 520.3L846.9 518.8L847.9 520.7L845.3 522.7L846.9 524.6L849.8 525.2L851.2 523.8L848.8 523.2L843.9 522.7L840.0 519.9L837.1 517.4L834.2 513.5L831.2 510.5L828.3 506.6L826.4 501.8L825.4 496.9L825.8 492.0L824.4 488.1L821.5 484.8L818.6 482.2L815.6 484.2L811.7 486.1ZM840.0 468.6L845.9 466.6L850.8 468.6L854.7 471.5L858.6 474.4L860.9 479.3L858.6 482.8L855.7 481.2L852.7 477.3L847.9 475.4L843.0 473.4ZM855.7 462.1L864.5 458.8L869.9 459.8L867.4 463.7L862.1 466.0L859.6 469.5L856.6 471.1L854.7 467.2ZM843.9 463.7L849.8 462.1L852.7 464.6L848.8 466.0L844.9 466.0ZM841.6 470.3L848.4 469.1L851.2 472.7L846.9 475.0L842.2 473.4ZM853.9 473.4L858.6 471.9L862.9 476.4L864.8 482.2L862.1 486.3L858.6 482.4L855.7 477.7ZM849.8 475.0L853.1 474.6L854.7 479.3L851.2 479.7ZM865.4 466.6L868.4 462.7L874.2 460.7L880.1 460.2L885.0 462.7L885.9 466.6L883.0 471.5L881.1 476.4L878.1 481.2L873.2 485.2L869.3 488.1L867.4 484.2L868.0 479.3L866.4 473.4L864.5 469.5ZM880.1 485.2L884.0 484.8L884.4 486.7L880.5 487.1ZM847.9 525.2L851.2 522.7L855.7 522.7L859.6 524.2L863.5 527.1L868.4 529.1L871.9 531.6L871.3 535.9L868.4 539.8L866.4 544.7L862.5 547.7L860.5 551.6L858.6 556.4L857.6 560.4L858.2 563.3L855.7 562.9L853.7 558.4L852.7 552.5L852.3 546.7L851.2 540.8L848.4 535.9L846.9 531.1L846.9 527.1ZM882.0 516.4L884.4 512.1L888.9 509.6L894.7 508.2L900.6 508.6L906.4 510.2L911.3 510.9L914.3 513.5L916.2 517.4L918.8 520.7L921.5 521.1L919.9 525.0L916.2 529.1L913.7 533.0L912.9 537.9L910.4 541.8L907.4 545.7L903.5 547.3L900.6 546.7L898.6 541.8L897.7 536.9L896.7 532.0L895.7 528.1L893.4 525.2L888.9 525.2L884.4 523.8L882.0 520.3ZM915.2 535.9L917.8 534.4L917.2 538.9L914.8 541.8ZM886.9 502.7L885.9 499.8L888.9 497.9L891.8 496.9L890.8 493.9L893.8 492.0L896.7 491.0L895.3 488.1L893.9 485.2L896.3 481.8L900.0 479.9L904.7 478.7L909.0 479.5L912.3 479.1L917.2 477.3L921.1 479.3L924.0 474.4L927.9 469.5L932.8 467.2L937.7 469.1L942.6 470.1L948.4 468.2L954.3 467.6L962.1 466.8L971.9 467.2L974.2 470.3L971.5 474.4L968.0 477.3L969.5 482.2L970.3 487.1L968.4 490.0L966.4 485.2L965.6 480.3L963.7 481.2L961.7 484.8L960.9 489.1L962.9 492.0L964.6 495.9L963.5 499.8L961.7 502.3L962.7 505.7L960.2 508.6L958.2 508.2L956.6 510.5L957.2 513.5L955.1 516.8L951.4 518.4L948.4 517.4L946.9 514.5L944.9 517.4L947.5 521.3L949.6 525.8L947.7 527.3L945.5 524.2L943.6 520.3L941.0 516.4L938.7 515.4L936.7 518.4L934.8 523.8L932.8 521.3L930.9 517.4L927.9 514.5L925.0 513.5L922.1 512.5L923.4 516.4L920.1 519.5L917.2 517.4L915.2 513.5L913.3 510.5L914.3 507.6L911.3 506.6L906.4 507.0L904.5 504.7L901.6 503.7L900.0 506.2L897.7 502.7L894.7 501.2L896.1 505.7L893.8 504.7L891.8 501.2L888.9 503.1ZM889.8 492.0L891.8 488.7L893.9 489.8L893.6 494.1L890.6 495.5ZM887.5 491.8L889.5 491.2L889.3 494.1L887.5 494.1ZM894.3 467.6L898.8 466.8L897.7 470.7L895.5 471.7ZM912.3 473.4L915.2 469.5L917.4 470.5L914.5 476.6ZM920.7 460.9L925.0 462.5L927.3 464.8L923.8 464.1ZM943.2 462.5L948.4 463.1L946.5 464.8ZM844.1 516.8L848.8 516.4L851.2 517.8L846.9 518.0ZM852.3 518.4L855.1 518.4L855.1 519.5L852.3 519.3ZM965.6 484.2L966.8 483.6L967.6 490.0L966.4 490.6ZM960.2 512.1L961.3 511.7L961.5 514.5L960.4 514.5ZM846.5 460.2L851.2 459.4L852.3 461.3L847.9 462.1ZM838.3 466.4L842.0 465.2L843.4 467.2L839.8 468.4ZM968.4 491.6L970.5 493.9L969.5 498.8L967.0 502.0L965.2 500.8L968.0 496.9ZM944.5 525.2L949.4 530.1L951.8 533.2L949.4 533.2L945.5 528.1ZM954.3 525.2L958.2 524.2L959.4 528.1L956.2 530.3L953.9 528.1ZM951.4 534.0L958.6 535.0L958.6 536.1L951.4 535.4ZM961.1 527.1L963.3 526.6L963.9 531.2L961.7 530.5ZM966.0 529.1L970.9 530.1L975.0 532.0L973.0 533.8L968.0 532.4ZM959.2 516.4L961.3 517.4L961.9 522.5L959.8 522.9ZM936.5 524.2L938.1 525.2L937.1 526.8ZM952.3 543.8L955.3 539.8L959.2 537.9L962.1 535.9L965.0 537.1L967.0 535.5L968.9 537.9L971.9 541.8L973.6 545.7L971.9 550.6L968.9 553.7L965.6 553.1L963.1 550.6L959.2 549.2L955.3 550.0L952.3 547.7ZM966.2 555.5L968.6 555.5L967.6 557.6ZM982.4 552.3L984.8 553.5L982.8 557.0L980.7 558.6ZM979.7 559.4L981.8 559.0L978.7 562.5L976.6 561.7Z" fill="#231f20" stroke="#231f20" stroke-width="0.5" stroke-linejoin="round"/>
<ellipse cx="909.4" cy="502.0" rx="2.0" ry="0.8" fill="#feeec3"/>
<ellipse cx="919.9" cy="502.0" rx="0.8" ry="2.0" fill="#feeec3"/>
<path d="M902.0 488.3L904.7 485.5L905.7 486.7L903.9 489.1L905.5 490.2L903.1 491.4Z" fill="#feeec3"/>
<path d="M0.5 0.5H1023.5V619.5H0.5Z" fill="none" stroke="#6f6f6f" stroke-width="1"/>
</svg>
</body>
</html>
